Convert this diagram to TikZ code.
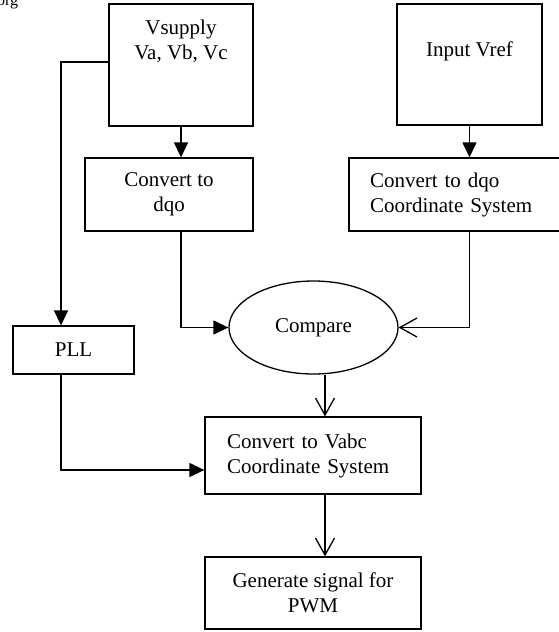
\documentclass[tikz,border=0pt]{standalone}
\usepackage{fontspec}
\setmainfont{Liberation Serif}
\usetikzlibrary{shapes.geometric,arrows.meta}
\begin{document}
\begin{tikzpicture}[x=1pt,y=-1pt,
  box/.style={draw,line width=1.3pt,inner sep=0pt,font=\fontsize{21}{25}\selectfont,align=center},
  txt/.style={font=\fontsize{21}{25}\selectfont,align=center,inner sep=0pt},
  conn/.style={line width=1.3pt},
  fa/.style={conn,-{Triangle[length=15pt,width=14pt]}},
  oa/.style={conn,-{Straight Barb[length=17pt,width=19pt]}}]
\useasboundingbox (0,0) rectangle (558,632);
\node[font=\fontsize{16}{16}\selectfont,anchor=base west,inner sep=0pt] (wm) at (-3,5) {org};
% boxes
\node[box,minimum width=144pt,minimum height=122pt] (vs) at (181,65) {};
\node[txt] (vst) at (181,41.5) {Vsupply\\Va, Vb, Vc};
\node[box,minimum width=145pt,minimum height=121pt] (iv) at (469.5,64.5) {};
\node[txt] (ivt) at (469.5,51) {Input Vref};
\node[box,minimum width=168pt,minimum height=73pt] (cd) at (169,194.5) {Convert to\\dqo};
\node[box,align=left,text width=199pt,inner xsep=21pt,minimum height=73pt] (cc) at (469.5,194.5) {Convert to dqo\\Coordinate System};
\node[draw,ellipse,line width=1.3pt,minimum width=169pt,minimum height=93pt,inner sep=0pt,font=\fontsize{21}{25}\selectfont] (cmp) at (313.5,327.5) {Compare};
\node[box,minimum width=121pt,minimum height=48pt] (pll) at (73.5,350) {PLL};
\node[box,align=left,text width=172pt,inner xsep=22pt,minimum height=77pt] (vabc) at (313,455.5) {Convert to Vabc\\Coordinate System};
\node[box,minimum width=216pt,minimum height=72pt] (gen) at (313,593) {Generate signal for\\PWM};
% helper coordinates
\coordinate (k1) at (61,62);
\coordinate (k2) at (325,0);
\coordinate (k3) at (0,470);
% connectors
\draw[fa] (vs.south) -- (cd.north -| vs.south);
\draw[fa] (iv.south) -- (cc.north);
\draw[fa] (vs.west |- k1) -- (k1) -- (pll.north -| k1);
\draw[fa] (cd.south -| vs.south) |- (cmp.west);
\draw[oa] (cc.south) |- (cmp.east);
\draw[oa] (cmp.south -| k2) -- (vabc.north -| k2);
\draw[oa] (vabc.south -| k2) -- (gen.north -| k2);
\draw[fa] (pll.south -| k1) |- (vabc.west |- k3);
\end{tikzpicture}
\end{document}
